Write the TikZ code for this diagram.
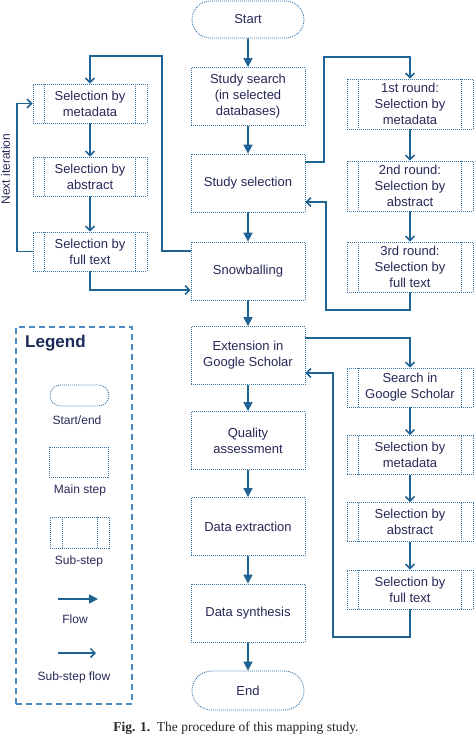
\documentclass[tikz,border=0pt]{standalone}
\usepackage{fontspec}
\setmainfont{Liberation Sans}
\newfontfamily\capfont{Liberation Serif}
\usetikzlibrary{arrows.meta,shapes.misc}
\definecolor{linec}{HTML}{1F6392}
\definecolor{boxc}{HTML}{3574A8}
\definecolor{txtc}{HTML}{262857}
\definecolor{legc}{HTML}{4A8AC0}
\definecolor{legt}{HTML}{1C2B5A}
\tikzset{
  base/.style={draw=boxc, line width=0.8pt, dash pattern=on 1pt off 1pt, text=txtc,
    align=center, font=\fontsize{13}{16}\selectfont, inner sep=0pt},
  mainbox/.style={base, rectangle, minimum width=114pt, minimum height=58pt},
  termbox/.style={base, rounded rectangle, minimum width=112pt, minimum height=37pt},
  subbox/.style={base, rectangle, minimum width=#1, minimum height=39pt,
    path picture={
      \draw[boxc, line width=0.8pt, dash pattern=on 1pt off 1pt]
        ([xshift=11.5pt]path picture bounding box.north west) -- ([xshift=11.5pt]path picture bounding box.south west)
        ([xshift=-11.5pt]path picture bounding box.north east) -- ([xshift=-11.5pt]path picture bounding box.south east);}},
  subbox/.default=114pt,
  flow/.style={draw=linec, line width=1.7pt, -{Triangle[width=9pt,length=9pt]}},
  subflow/.style={draw=linec, line width=1.5pt, -{Straight Barb[width=9pt,length=4.5pt,line width=1.5pt]}},
  legtxt/.style={text=txtc, font=\fontsize{12}{14}\selectfont, inner sep=0pt},
}
\begin{document}
\begin{tikzpicture}[x=1pt,y=-1pt]
\useasboundingbox (0,0) rectangle (474,734);
% main column
\node[termbox] (start) at (248,19.5) {Start};
\node[mainbox] (search) at (248,96.5) {Study search\\(in selected\\databases)};
\node[mainbox] (sel) at (248,183) {Study selection};
\node[mainbox] (snow) at (248,271) {Snowballing};
\node[mainbox] (ext) at (248,355.5) {Extension in\\Google Scholar};
\node[mainbox] (qual) at (248,440.5) {Quality\\assessment};
\node[mainbox] (extr) at (248,526.5) {Data extraction};
\node[mainbox] (synt) at (248,613) {Data synthesis};
\node[termbox, minimum height=39pt] (end) at (248,690.5) {End};
% left column
\node[subbox] (lmeta) at (90,103.5) {Selection by\\metadata};
\node[subbox] (labs) at (90,176.5) {Selection by\\abstract};
\node[subbox] (lfull) at (90,251.5) {Selection by\\full text};
% right top column
\node[subbox=126pt, minimum height=50pt] (r1) at (410,104) {1st round:\\Selection by\\metadata};
\node[subbox=126pt, minimum height=50pt] (r2) at (410,186) {2nd round:\\Selection by\\abstract};
\node[subbox=126pt, minimum height=50pt] (r3) at (410,267) {3rd round:\\Selection by\\full text};
% right bottom column
\node[subbox=126pt] (gs) at (410,387.5) {Search in\\Google Scholar};
\node[subbox=126pt] (gmeta) at (410,455) {Selection by\\metadata};
\node[subbox=126pt] (gabs) at (410,522) {Selection by\\abstract};
\node[subbox=126pt] (gfull) at (410,589.5) {Selection by\\full text};
% main flow
\draw[flow] (start) -- (search);
\draw[flow] (search) -- (sel);
\draw[flow] (sel) -- (snow);
\draw[flow] (snow) -- (ext);
\draw[flow] (ext) -- (qual);
\draw[flow] (qual) -- (extr);
\draw[flow] (extr) -- (synt);
\draw[flow] (synt) -- (end);
% study selection loop
\coordinate (a1) at (324,57);
\coordinate (a2) at (326,310);
\draw[subflow] ([yshift=21pt]sel.east) -| (a1) -| (r1.north);
\draw[subflow] (r1) -- (r2);
\draw[subflow] (r2) -- (r3);
\draw[subflow] (r3.south) |- (a2) |- ([yshift=-19pt]sel.east);
% snowballing loop
\coordinate (b1) at (162,56);
\coordinate (b3) at (17,180);
\draw[subflow] ([yshift=20pt]snow.west) -| (b1) -| (lmeta.north);
\draw[subflow] (lmeta) -- (labs);
\draw[subflow] (labs) -- (lfull);
\draw[subflow] (lfull.south) |- ([yshift=-19pt]snow.west);
\draw[subflow] (lfull.west) -| (b3) |- (lmeta.west);
\node[legtxt, rotate=90] (nextit) at (5.5,169) {Next iteration};
% extension loop
\coordinate (c1) at (333,637);
\draw[subflow] ([yshift=17.5pt]ext.east) -| (gs.north);
\draw[subflow] (gs) -- (gmeta);
\draw[subflow] (gmeta) -- (gabs);
\draw[subflow] (gabs) -- (gfull);
\draw[subflow] (gfull.south) |- (c1) |- ([yshift=-17.5pt]ext.east);
% legend
\node[draw=legc, line width=1.6pt, dash pattern=on 6pt off 4pt, minimum width=116pt, minimum height=377pt, inner sep=0pt] (legend) at (74,515.5) {};
\node[text=legt, font=\fontsize{17}{19}\bfseries\selectfont, anchor=west, inner sep=0pt] (legtitle) at (25,343) {Legend};
\node[termbox, minimum width=59pt, minimum height=21pt] (lg1) at (79.5,395.5) {};
\node[legtxt] (lg1t) at (77,420) {Start/end};
\node[mainbox, minimum width=59pt, minimum height=30pt] (lg2) at (78.5,462) {};
\node[legtxt] (lg2t) at (80,490) {Main step};
\node[base, rectangle, minimum width=59pt, minimum height=31pt,
  path picture={
      \draw[boxc, line width=0.8pt, dash pattern=on 1pt off 1pt]
        ([xshift=12pt]path picture bounding box.north west) -- ([xshift=12pt]path picture bounding box.south west)
        ([xshift=-12pt]path picture bounding box.north east) -- ([xshift=-12pt]path picture bounding box.south east);}] (lg3) at (79.5,532.5) {};
\node[legtxt] (lg3t) at (79,561) {Sub-step};
\coordinate (f1) at (58,599);
\coordinate (f2) at (98,599);
\draw[flow] (f1) -- (f2);
\node[legtxt] (lg4t) at (75,619) {Flow};
\coordinate (s1) at (58,653);
\coordinate (s2) at (96,653);
\draw[subflow] (s1) -- (s2);
\node[legtxt] (lg5t) at (74,677) {Sub-step flow};
% caption
\node[anchor=north, inner sep=0pt, font=\capfont\fontsize{13.5}{15}\selectfont, text=black!85] (cap) at (236,721.5) {\textbf{Fig. 1.}\enspace The procedure of this mapping study.};
\end{tikzpicture}
\end{document}
